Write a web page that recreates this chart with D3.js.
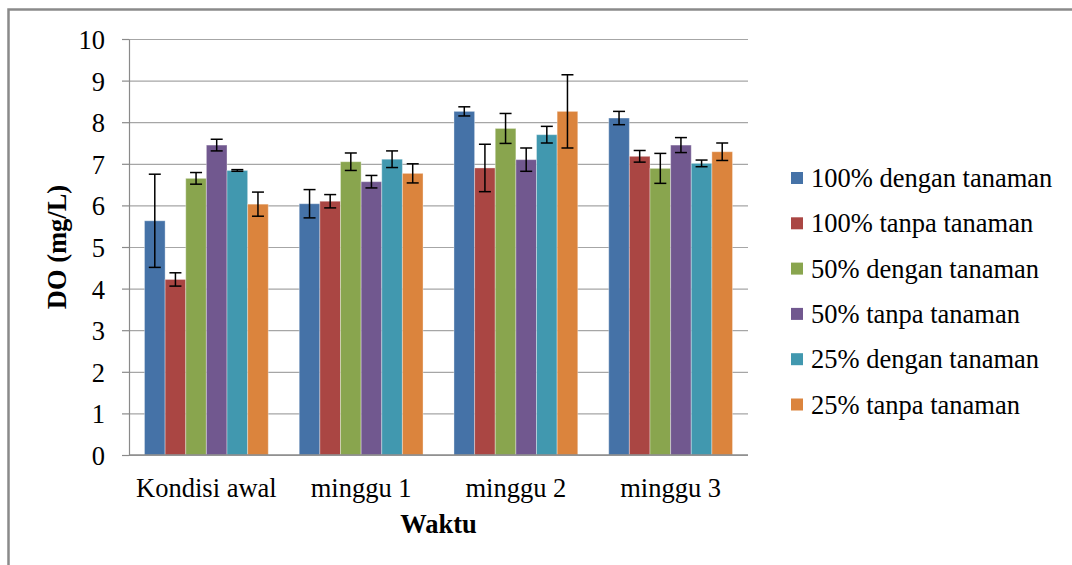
<!DOCTYPE html>
<html>
<head>
<meta charset="utf-8">
<script src="https://cdn.jsdelivr.net/npm/d3@7"></script>
<style>
  body { margin: 0; background: #fff; }
</style>
</head>
<body>
<div id="chart"></div>
<script>
// categories on the x axis
const categories = ["Kondisi awal", "minggu 1", "minggu 2", "minggu 3"];
const seriesNames = ["100% dengan tanaman", "100% tanpa tanaman", "50% dengan tanaman",
    "50% tanpa tanaman", "25% dengan tanaman", "25% tanpa tanaman"];
const seriesColors = ["#4572A7", "#AA4643", "#89A54E", "#71588F", "#4198AF", "#DB843D"];

// DO means per series (one value per category)
const do100Dengan = [5.63, 6.04, 8.26, 8.10];
const do100Tanpa = [4.22, 6.10, 6.90, 7.18];
const do50Dengan = [6.65, 7.05, 7.85, 6.89];
const do50Tanpa = [7.45, 6.57, 7.10, 7.45];
const do25Dengan = [6.84, 7.11, 7.70, 7.01];
const do25Tanpa = [6.03, 6.77, 8.26, 7.29];

// error bar half-lengths
const err100Dengan = [1.12, 0.34, 0.11, 0.16];
const err100Tanpa = [0.16, 0.16, 0.57, 0.14];
const err50Dengan = [0.14, 0.21, 0.36, 0.36];
const err50Tanpa = [0.14, 0.15, 0.28, 0.18];
const err25Dengan = [0.02, 0.20, 0.20, 0.08];
const err25Tanpa = [0.29, 0.23, 0.88, 0.21];

const yTicks = [0, 1, 2, 3, 4, 5, 6, 7, 8, 9, 10];

const allMeans = [do100Dengan, do100Tanpa, do50Dengan, do50Tanpa, do25Dengan, do25Tanpa];
const allErrs = [err100Dengan, err100Tanpa, err50Dengan, err50Tanpa, err25Dengan, err25Tanpa];

const FONT = "'Liberation Serif', serif";
const FSIZE = "26.5px";

// flatten into rows for the bars
const rows = [];
categories.forEach(function (c, ci) {
    seriesNames.forEach(function (s, si) {
        rows.push({ cat: c, series: s, value: allMeans[si][ci], err: allErrs[si][ci], color: seriesColors[si] });
    });
});

const width = 1072, height = 565;
const plot = { left: 129, right: 748, top: 39, bottom: 455 };

const svg = d3.select("#chart").append("svg")
    .attr("width", width)
    .attr("height", height);

// outer chart border (runs off the right and bottom of the picture)
svg.append("rect")
    .attr("x", 8.5).attr("y", 9.5)
    .attr("width", 1100).attr("height", 600)
    .attr("fill", "none")
    .attr("stroke", "#8a8a8a")
    .attr("stroke-width", 2.5);

const x0 = d3.scaleBand()
    .domain(categories)
    .range([plot.left, plot.right])
    .padding(0);

const bw = x0.bandwidth();
const x1 = d3.scaleBand()
    .domain(seriesNames)
    .range([bw * 0.1, bw * 0.9])
    .padding(0);

const y = d3.scaleLinear()
    .domain([0, 10])
    .range([plot.bottom, plot.top]);

// gridlines
svg.append("g")
    .attr("transform", `translate(${plot.left},0)`)
    .call(d3.axisLeft(y).tickValues(yTicks).tickSize(-(plot.right - plot.left)).tickFormat(""))
    .call(g => g.select(".domain").remove())
    .selectAll("line")
    .attr("stroke", "#a6a6a6")
    .attr("stroke-width", 1.2);

// y axis
const yAxis = svg.append("g")
    .attr("transform", `translate(${plot.left},0)`)
    .call(d3.axisLeft(y).tickValues(yTicks).tickSize(7).tickPadding(17).tickSizeOuter(0));
yAxis.attr("font-family", null).attr("font-size", null);
yAxis.select(".domain").attr("stroke", "#8a8a8a").attr("stroke-width", 1.2);
yAxis.selectAll(".tick line").attr("stroke", "#8a8a8a").attr("stroke-width", 1.2);
yAxis.selectAll(".tick text")
    .style("font-size", FSIZE)
    .style("font-family", FONT)
    .attr("dy", "0.36em")
    .attr("fill", "#000");

// bars
svg.append("g")
    .selectAll("rect")
    .data(rows)
    .enter()
    .append("rect")
    .attr("x", d => x0(d.cat) + x1(d.series))
    .attr("y", d => y(d.value))
    .attr("width", x1.bandwidth())
    .attr("height", d => y(0) - y(d.value))
    .attr("fill", d => d.color)
    .attr("stroke", "rgba(255,255,255,0.35)")
    .attr("stroke-width", 1);

// x axis baseline
svg.append("line")
    .attr("x1", plot.left).attr("x2", plot.right)
    .attr("y1", y(0)).attr("y2", y(0))
    .attr("stroke", "#8a8a8a")
    .attr("stroke-width", 1.5);

// error bars
const eb = svg.append("g").attr("stroke", "#000").attr("stroke-width", 1.5);
const cap = 6;
rows.forEach(function (d) {
    const cx = x0(d.cat) + x1(d.series) + x1.bandwidth() / 2;
    eb.append("line").attr("x1", cx).attr("x2", cx)
        .attr("y1", y(d.value + d.err)).attr("y2", y(d.value - d.err));
    eb.append("line").attr("x1", cx - cap).attr("x2", cx + cap)
        .attr("y1", y(d.value + d.err)).attr("y2", y(d.value + d.err));
    eb.append("line").attr("x1", cx - cap).attr("x2", cx + cap)
        .attr("y1", y(d.value - d.err)).attr("y2", y(d.value - d.err));
});

// category labels
svg.append("g")
    .selectAll("text")
    .data(categories)
    .enter()
    .append("text")
    .attr("x", d => x0(d) + bw / 2)
    .attr("y", 497)
    .attr("text-anchor", "middle")
    .style("font-family", FONT)
    .style("font-size", FSIZE)
    .text(d => d);

// axis titles
svg.append("text")
    .attr("x", (plot.left + plot.right) / 2)
    .attr("y", 533)
    .attr("text-anchor", "middle")
    .style("font-family", FONT)
    .style("font-size", FSIZE)
    .style("font-weight", "bold")
    .text("Waktu");

svg.append("text")
    .attr("transform", `translate(66,${(plot.top + plot.bottom) / 2}) rotate(-90)`)
    .attr("text-anchor", "middle")
    .style("font-family", FONT)
    .style("font-size", FSIZE)
    .style("font-weight", "bold")
    .text("DO (mg/L)");

// legend
const legend = svg.append("g").attr("transform", "translate(791,178)");
const item = legend.selectAll("g")
    .data(seriesNames)
    .enter()
    .append("g")
    .attr("transform", (d, i) => `translate(0,${i * 45.3})`);
item.append("rect")
    .attr("x", 0).attr("y", -6)
    .attr("width", 12).attr("height", 12)
    .attr("fill", (d, i) => seriesColors[i]);
item.append("text")
    .attr("x", 20)
    .attr("y", 0)
    .attr("dy", "0.34em")
    .style("font-family", FONT)
    .style("font-size", FSIZE)
    .text(d => d);
</script>
</body>
</html>
